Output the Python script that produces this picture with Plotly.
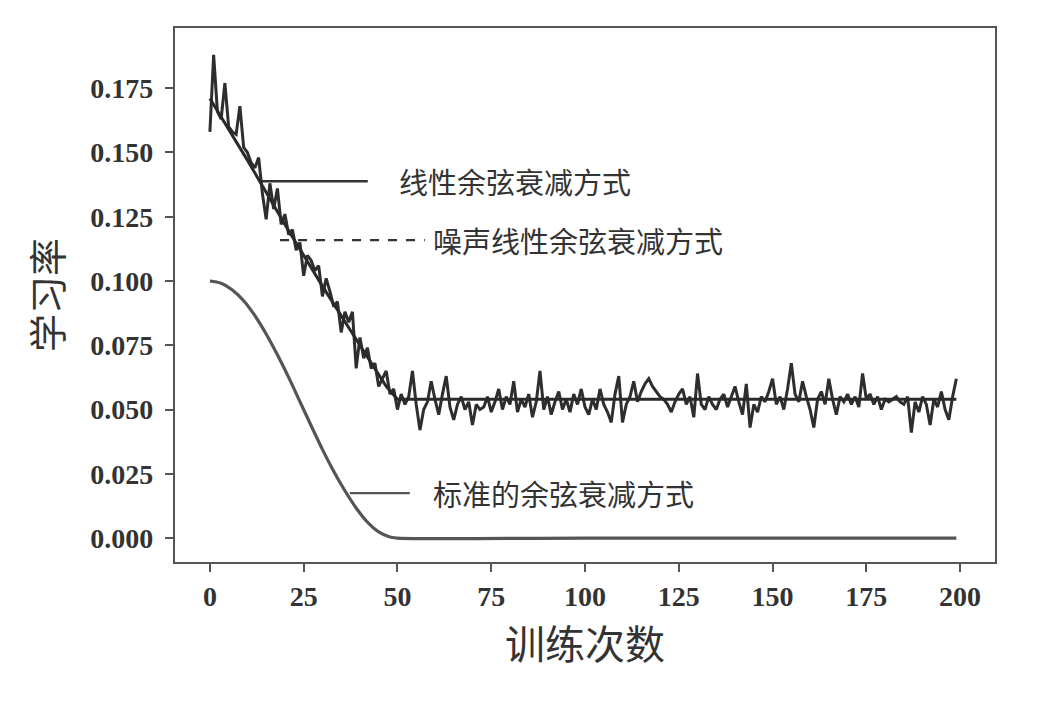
import plotly.graph_objects as go

# ---- data ----
cos_steps = [0, 3, 6, 9, 12, 15, 18, 21, 24, 27, 30, 33, 36, 39, 42, 45, 48, 50, 100, 150, 199]
cos_lr = [0.1000, 0.0991, 0.0965, 0.0923, 0.0865, 0.0794, 0.0713, 0.0625, 0.0531, 0.0437, 0.0345, 0.0260, 0.0184, 0.0117, 0.0062, 0.0024, 0.0004, 0.0000, 0.0000, 0.0000, 0.0000]

lin_steps = [0, 10, 20, 30, 40, 47, 50, 100, 150, 199]
lin_lr = [0.171, 0.147, 0.122, 0.098, 0.075, 0.059, 0.054, 0.054, 0.054, 0.054]

noisy_lr = [
    0.158, 0.188, 0.166, 0.163, 0.177, 0.160, 0.158, 0.157, 0.168, 0.152,
    0.150, 0.146, 0.144, 0.148, 0.134, 0.124, 0.138, 0.128, 0.136, 0.122,
    0.126, 0.118, 0.120, 0.112, 0.115, 0.102, 0.110, 0.108, 0.104, 0.106,
    0.094, 0.101, 0.096, 0.090, 0.092, 0.080, 0.088, 0.084, 0.088, 0.066,
    0.078, 0.070, 0.074, 0.066, 0.068, 0.059, 0.062, 0.065, 0.056, 0.058,
    0.050, 0.056, 0.052, 0.055, 0.065, 0.052, 0.042, 0.050, 0.053, 0.061,
    0.054, 0.048, 0.056, 0.063, 0.051, 0.046, 0.052, 0.055, 0.050, 0.053,
    0.044, 0.052, 0.050, 0.051, 0.055, 0.049, 0.053, 0.058, 0.050, 0.055,
    0.052, 0.061, 0.049, 0.054, 0.051, 0.056, 0.047, 0.053, 0.065, 0.050,
    0.055, 0.048, 0.053, 0.057, 0.050, 0.054, 0.049, 0.056, 0.052, 0.058,
    0.051, 0.048, 0.054, 0.050, 0.058, 0.052, 0.049, 0.045, 0.056, 0.063,
    0.045, 0.052, 0.055, 0.061, 0.053, 0.057, 0.060, 0.062, 0.059, 0.057,
    0.055, 0.054, 0.052, 0.049, 0.053, 0.056, 0.058, 0.052, 0.055, 0.047,
    0.064, 0.052, 0.050, 0.055, 0.052, 0.050, 0.054, 0.056, 0.051, 0.055,
    0.059, 0.053, 0.048, 0.060, 0.043, 0.052, 0.049, 0.055, 0.053, 0.057,
    0.062, 0.052, 0.055, 0.050, 0.058, 0.068, 0.056, 0.053, 0.061, 0.055,
    0.050, 0.043, 0.054, 0.057, 0.052, 0.062, 0.054, 0.048, 0.055, 0.053,
    0.056, 0.052, 0.055, 0.051, 0.064, 0.054, 0.056, 0.052, 0.055, 0.050,
    0.054, 0.053, 0.054, 0.055, 0.053, 0.052, 0.055, 0.041, 0.053, 0.049,
    0.055, 0.052, 0.044, 0.054, 0.051, 0.057, 0.050, 0.046, 0.055, 0.062,
]
noisy_steps = list(range(len(noisy_lr)))

x_ticks = [0, 25, 50, 75, 100, 125, 150, 175, 200]
y_ticks = [0.000, 0.025, 0.050, 0.075, 0.100, 0.125, 0.150, 0.175]
y_tick_labels = ["0.000", "0.025", "0.050", "0.075", "0.100", "0.125", "0.150", "0.175"]

labels = ["线性余弦衰减方式", "噪声线性余弦衰减方式", "标准的余弦衰减方式"]

# ---- figure ----
fig = go.Figure()
fig.add_trace(go.Scatter(x=cos_steps, y=cos_lr, mode="lines", line=dict(color="#555555", width=3.2, shape="spline"), showlegend=False))
fig.add_trace(go.Scatter(x=noisy_steps, y=noisy_lr, mode="lines", line=dict(color="#2e2e2e", width=3.0), showlegend=False))
fig.add_trace(go.Scatter(x=lin_steps, y=lin_lr, mode="lines", line=dict(color="#2a2a2a", width=3.0), showlegend=False))

# leader lines + labels
leaders = [
    dict(x0=13.9, x1=42.1, y=0.1388, dash="solid", color="#333333", tx=49.8),
    dict(x0=18.7, x1=57.3, y=0.1159, dash="dash", color="#333333", tx=59.0),
    dict(x0=37.3, x1=53.3, y=0.0175, dash="solid", color="#555555", tx=59.0),
]
for ld, txt in zip(leaders, labels):
    fig.add_shape(type="line", x0=ld["x0"], x1=ld["x1"], y0=ld["y"], y1=ld["y"], xref="x", yref="y",
                  line=dict(color=ld["color"], width=2.4, dash=ld["dash"]))
    fig.add_annotation(x=ld["tx"], y=ld["y"], xref="x", yref="y", text=txt, showarrow=False,
                       xanchor="left", yanchor="middle",
                       font=dict(family="Noto Sans CJK SC", size=29, color="#333333"))

axis_common = dict(showline=True, mirror=True, linecolor="#555555", linewidth=2.4,
                   ticks="outside", ticklen=8, tickwidth=2, tickcolor="#555555",
                   showgrid=False, zeroline=False)

fig.update_xaxes(range=[-9.3, 209.3], tickvals=x_ticks, **axis_common,
                 tickfont=dict(family="Liberation Serif", size=28, color="#333333", weight="bold"),
                 title=dict(text="训练次数", standoff=20,
                            font=dict(family="Noto Sans CJK SC", size=40, color="#333333")))
fig.update_yaxes(range=[-0.0093, 0.1984], tickvals=y_ticks, ticktext=y_tick_labels, **axis_common,
                 tickfont=dict(family="Liberation Serif", size=28, color="#333333", weight="bold"),
                 ticklabelstandoff=6,
                 title=dict(text="学习率", standoff=16,
                            font=dict(family="Noto Sans CJK SC", size=38, color="#333333")))

fig.update_layout(width=1044, height=704, margin=dict(l=167, r=57, t=20, b=150),
                  paper_bgcolor="white", plot_bgcolor="white")

fig.write_html("out.html")
